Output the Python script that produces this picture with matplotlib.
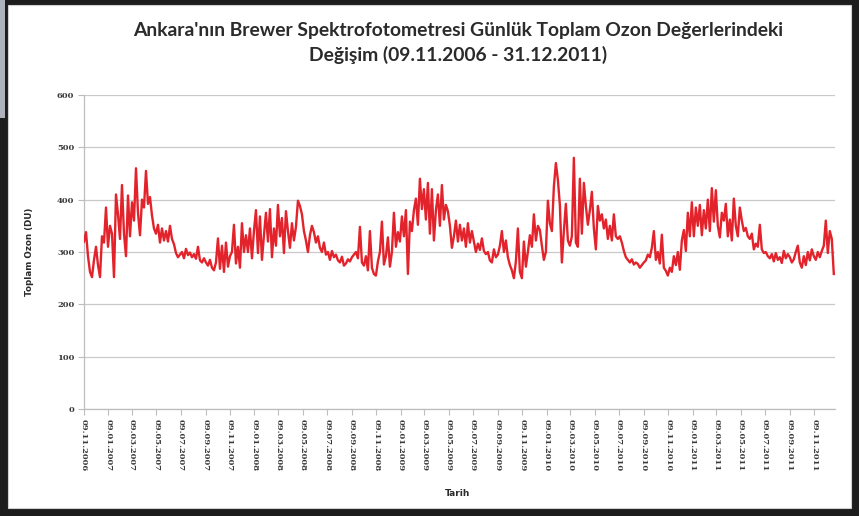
import pandas as pd
import matplotlib
matplotlib.use("Agg")
import matplotlib.pyplot as plt
from matplotlib.patches import Rectangle

# Daily total ozone over Ankara (Brewer), sampled every 5 days, in Dobson Units
start_date = "2006-11-09"
end_date = "2011-12-31"
step_days = 5

ozone_2006_07 = [
    320, 338, 292, 262, 252, 285, 310, 275, 252, 330, 318, 385,
    310, 350, 335, 252, 410, 372, 325, 428, 335, 292, 408, 330,
    395, 360, 460, 375, 332, 400, 385, 455, 392, 405, 370, 345,
    335, 352, 318, 345, 322, 340, 320, 350, 325, 315, 298, 290,
    295, 300, 288, 306, 294, 299, 290, 296, 287, 310, 284, 280, 288,
    280, 274, 285, 270, 265, 280, 326, 268, 312, 262, 318, 272,
]
ozone_2007_08 = [
    292, 300, 352, 278, 310, 270, 355, 300, 332, 300, 345, 288,
    340, 380, 298, 368, 285, 332, 375, 320, 382, 290, 345, 312,
    390, 330, 365, 298, 378, 340, 308, 355, 322, 348, 398, 388,
    372, 340, 322, 300, 332, 350, 338, 318, 330, 308, 300, 318, 295,
    300, 285, 302, 290, 295, 284, 280, 291, 274, 278, 286, 282,
    290, 295, 300, 288, 348, 280, 274, 292, 265, 340, 270, 258,
]
ozone_2008_09 = [
    255, 282, 300, 358, 276, 292, 328, 272, 300, 375, 310, 338,
    320, 368, 330, 380, 258, 358, 340, 380, 402, 352, 440, 382,
    420, 362, 432, 335, 420, 322, 380, 410, 350, 428, 362, 390, 378,
    350, 308, 330, 360, 320, 352, 322, 345, 310, 355, 318, 340,
    320, 300, 316, 304, 326, 302, 296, 300, 284, 280, 305, 290,
    295, 312, 340, 300, 322, 290, 275, 265, 250, 282, 345, 262,
]
ozone_2009_10 = [
    250, 320, 272, 300, 332, 310, 372, 322, 350, 342, 312, 285,
    300, 398, 355, 340, 425, 470, 438, 390, 280, 340, 392, 322, 312,
    330, 480, 318, 310, 440, 335, 432, 388, 352, 380, 415, 345,
    305, 388, 360, 372, 345, 362, 325, 350, 322, 372, 330, 325,
    330, 318, 302, 290, 285, 280, 286, 276, 280, 277, 270, 275,
    280, 284, 295, 290, 308, 340, 285, 300, 278, 333, 270, 264,
]
ozone_2010_11 = [
    255, 270, 262, 292, 275, 300, 266, 322, 342, 302, 375, 330, 395,
    330, 385, 350, 390, 332, 380, 345, 400, 340, 422, 358, 418,
    350, 328, 375, 360, 392, 330, 362, 322, 402, 350, 330, 385,
    360, 340, 346, 330, 325, 335, 305, 316, 310, 352, 305, 298,
    300, 292, 288, 296, 282, 298, 285, 290, 279, 302, 288, 296,
    290, 280, 286, 300, 312, 280, 270, 292, 275, 300, 284, 305, 292,
    285, 300, 290, 302, 312, 360, 298, 340, 325, 258,
]

tick_labels = [
    "09.11.2006", "09.01.2007", "09.03.2007", "09.05.2007", "09.07.2007",
    "09.09.2007", "09.11.2007", "09.01.2008", "09.03.2008", "09.05.2008",
    "09.07.2008", "09.09.2008", "09.11.2008", "09.01.2009", "09.03.2009",
    "09.05.2009", "09.07.2009", "09.09.2009", "09.11.2009", "09.01.2010",
    "09.03.2010", "09.05.2010", "09.07.2010", "09.09.2010", "09.11.2010",
    "09.01.2011", "09.03.2011", "09.05.2011", "09.07.2011", "09.09.2011",
    "09.11.2011",
]
y_ticks = [0, 100, 200, 300, 400, 500, 600]

title_text = ("Ankara'nın Brewer Spektrofotometresi Günlük Toplam Ozon Değerlerindeki\n"
              "Değişim (09.11.2006 - 31.12.2011)")
y_label = "Toplam Ozon (DU)"
x_label = "Tarih"

ozone = ozone_2006_07 + ozone_2007_08 + ozone_2008_09 + ozone_2009_10 + ozone_2010_11
dates = pd.date_range(start_date, periods=len(ozone), freq=f"{step_days}D")
tick_dates = pd.to_datetime(tick_labels, format="%d.%m.%Y")

W, H = 859, 516
fig = plt.figure(figsize=(W / 100, H / 100), dpi=100)
fig.patch.set_facecolor("#1d1d1d")

# white sheet holding the chart, plus a sliver of photo at the upper left
fig.add_artist(Rectangle((8 / W, 1 - 508 / H), (851 - 8) / W, (508 - 5) / H,
                         transform=fig.transFigure, facecolor="white",
                         edgecolor="#d0d0d0", linewidth=0.8, zorder=0))
fig.add_artist(Rectangle((0, 1 - 118 / H), 5 / W, 118 / H,
                         transform=fig.transFigure, facecolor="#aeb3bb",
                         edgecolor="none", zorder=0))

ax = fig.add_axes([84 / W, 1 - 409 / H, (835 - 84) / W, (409 - 95) / H])
ax.set_facecolor("white")
ax.plot(dates, ozone, color="#e3232b", linewidth=1.7, zorder=3)

ax.set_ylim(0, 600)
ax.set_xlim(pd.Timestamp(start_date), pd.Timestamp(end_date))
ax.set_yticks(y_ticks)
ax.set_yticklabels([str(v) for v in y_ticks], fontfamily="DejaVu Serif",
                   fontweight="bold", fontsize=6, color="#3a3a3a")
ax.set_xticks(tick_dates)
ax.set_xticklabels(tick_labels, rotation=270, fontfamily="DejaVu Serif",
                   fontweight="bold", fontsize=6, color="#3a3a3a")
ax.tick_params(axis="both", length=4, width=0.8, color="#bdbdbd", pad=3)
ax.yaxis.grid(True, color="#c9c9c9", linewidth=0.9)
ax.set_axisbelow(True)
for side in ("top", "right"):
    ax.spines[side].set_visible(False)
for side in ("left", "bottom"):
    ax.spines[side].set_color("#bdbdbd")
    ax.spines[side].set_linewidth(0.9)

fig.text(458 / W, 1 - 43 / H, title_text, ha="center", va="center",
         fontfamily="Lato", fontweight="bold", fontsize=13.9, color="#2b2b2b",
         linespacing=1.4)
fig.text(30 / W, 1 - 252 / H, y_label, rotation=90, ha="center", va="center",
         fontfamily="DejaVu Sans", fontweight="bold", fontsize=6.3, color="#2b2b2b")
fig.text(458 / W, 1 - 493 / H, x_label, ha="center", va="center",
         fontfamily="DejaVu Sans", fontweight="bold", fontsize=6.5, color="#2b2b2b")

fig.savefig("out.png", dpi=100, facecolor=fig.get_facecolor())
